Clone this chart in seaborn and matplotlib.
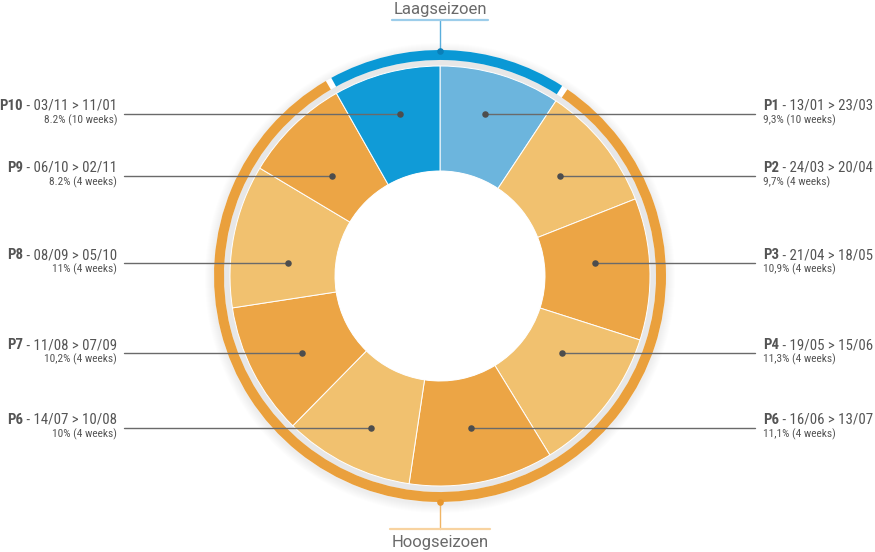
import numpy as np
import seaborn as sns
import matplotlib.pyplot as plt
from matplotlib.patches import Wedge, Circle

# data (clockwise from the top)
periods = ["P1", "P2", "P3", "P4", "P6", "P6", "P7", "P8", "P9", "P10"]
ranges = ["13/01 > 23/03", "24/03 > 20/04", "21/04 > 18/05", "19/05 > 15/06", "16/06 > 13/07",
          "14/07 > 10/08", "11/08 > 07/09", "08/09 > 05/10", "06/10 > 02/11", "03/11 > 11/01"]
shares = [9.3, 9.7, 10.9, 11.3, 11.1, 10.0, 10.2, 11.0, 8.2, 8.2]
share_labels = ["9,3%", "9,7%", "10,9%", "11,3%", "11,1%", "10%", "10,2%", "11%", "8.2%", "8.2%"]
weeks = [10, 4, 4, 4, 4, 4, 4, 4, 4, 10]
seasons = ["Laagseizoen"] + ["Hoogseizoen"] * 8 + ["Laagseizoen"]

slice_colors = ["#6cb5dd", "#f1c16f", "#eca545", "#f1c16f", "#eca545",
                "#f1c16f", "#eca545", "#f1c16f", "#eca545", "#109bd7"]
season_colors = {"Laagseizoen": "#0a98d5", "Hoogseizoen": "#eaa03c"}

# label rows (pixel rows of the leader lines, top→bottom)
right_rows = [114, 176, 263, 353, 428]
left_rows = [428, 353, 263, 176, 114]

sns.set_theme(style="white")
plt.rcParams['font.family'] = ['Roboto Condensed', 'Liberation Sans Narrow', 'DejaVu Sans']

W, H = 875, 552
cx, cy = 440, 276
R, HOLE = 210, 105

fig = plt.figure(figsize=(W / 100, H / 100), dpi=100)
ax = fig.add_axes([0, 0, 1, 1])

# soft shadow and grey ring behind the donut
for k in range(1, 10):
    ax.add_patch(Circle((cx, cy - 2), 226 + k, color="#000000", alpha=0.007, lw=0, zorder=0))
ax.add_patch(Circle((cx, cy), 226, color="white", lw=0, zorder=0.5))
ax.add_patch(Circle((cx, cy), 216, color="#e7e7e7", lw=0, zorder=1))

ax.pie(shares, colors=slice_colors, startangle=90, counterclock=False,
       center=(cx, cy), radius=R, frame=True,
       wedgeprops=dict(width=R - HOLE, edgecolor="white", linewidth=0.7, zorder=2))
ax.add_patch(Circle((cx, cy), HOLE, color="white", lw=0, zorder=2.5))

# outer season arcs
total = sum(shares)
edges = np.concatenate([[0], np.cumsum(shares)]) / total * 360
runs = []
for i, s in enumerate(seasons):
    if runs and runs[-1][0] == s:
        runs[-1][2] = edges[i + 1]
    else:
        runs.append([s, edges[i], edges[i + 1]])
if len(runs) > 1 and runs[0][0] == runs[-1][0]:
    runs[0][1] = runs[-1][1] - 360
    runs.pop()
gap = 0.8
for s, a0, a1 in runs:
    ax.add_patch(Wedge((cx, cy), 226, 90 - a1 + gap, 90 - a0 - gap, width=10,
                       color=season_colors[s], lw=0, zorder=3))

# leader lines, dots and labels
mids = (edges[:-1] + edges[1:]) / 2
dot_r = 155
text_c = "#555555"
right_idx = [i for i in range(len(shares)) if mids[i] < 180]
left_idx = [i for i in range(len(shares)) if mids[i] >= 180]
dots_x, dots_y = [], []
for idx, rows, side in [(right_idx, right_rows, 1), (left_idx, left_rows, -1)]:
    for i, row in zip(idx, rows):
        y = H - row
        x = cx + dot_r * np.sin(np.radians(mids[i]))
        dots_x.append(x)
        dots_y.append(y)
        sub = f"{share_labels[i]} ({weeks[i]} weeks)"
        if side == 1:
            ax.plot([x, 755], [y, y], color="#6a6a6a", lw=1, zorder=4)
            t = ax.text(763, y + 4, periods[i], ha="left", va="baseline", fontsize=10.7,
                        fontweight="bold", color=text_c)
            ax.annotate(" - " + ranges[i], xy=(1, 0), xycoords=t, ha="left", va="bottom",
                        fontsize=10.7, color=text_c)
            ax.text(763, y - 9, sub, ha="left", va="baseline", fontsize=8.2, color=text_c)
        else:
            ax.plot([124, x], [y, y], color="#6a6a6a", lw=1, zorder=4)
            t = ax.text(117, y + 4, " - " + ranges[i], ha="right", va="baseline", fontsize=10.7,
                        color=text_c)
            ax.annotate(periods[i], xy=(0, 0), xycoords=t, ha="right", va="bottom",
                        fontsize=10.7, fontweight="bold", color=text_c)
            ax.text(117, y - 9, sub, ha="right", va="baseline", fontsize=8.2, color=text_c)

sns.scatterplot(x=dots_x, y=dots_y, ax=ax, color="#4d4d4d", s=22, linewidth=0,
                legend=False, zorder=5)

# season callouts
ax.plot([cx, cx], [H - 51, H - 20], color="#5aaedc", lw=1, zorder=4)
ax.plot([392, 488], [H - 20, H - 20], color="#9ccdea", lw=1.6, zorder=4)
ax.scatter([cx], [H - 51], color="#0a7fb8", s=14, zorder=5)
ax.text(cx, H - 14, "Laagseizoen", ha="center", va="baseline", fontsize=12,
        family=["Roboto", "DejaVu Sans"], color="#6a6a6a")

ax.plot([cx, cx], [H - 502, H - 529], color="#f0b565", lw=1, zorder=4)
ax.plot([390, 490], [H - 529, H - 529], color="#f8d3a0", lw=1.6, zorder=4)
ax.scatter([cx], [H - 502], color="#e8962c", s=14, zorder=5)
ax.text(cx, H - 547, "Hoogseizoen", ha="center", va="baseline", fontsize=12,
        family=["Roboto", "DejaVu Sans"], color="#6a6a6a")

ax.set_xlim(0, W)
ax.set_ylim(0, H)
ax.set_aspect("equal")
ax.axis("off")

fig.savefig("out.png", dpi=100)
